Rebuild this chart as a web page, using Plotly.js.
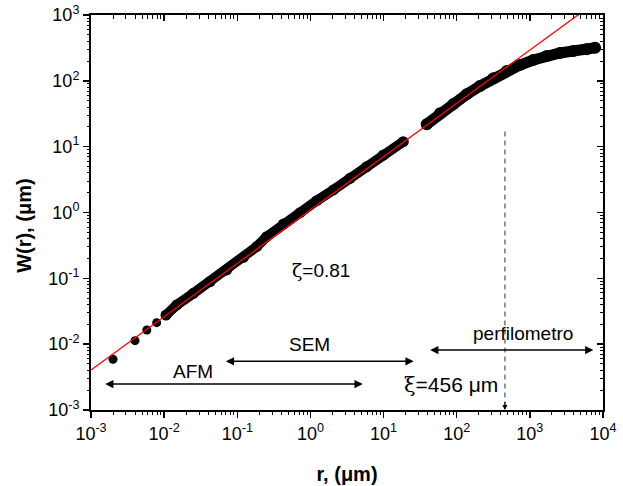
<!DOCTYPE html>
<html><head><meta charset="utf-8">
<script src="https://cdn.plot.ly/plotly-3.0.1.min.js"></script>
<style>html,body{margin:0;padding:0;background:#fff}</style>
</head><body><div id="chart" style="width:623px;height:486px"></div>
<script>
// AFM isolated points (r in um, W in um)
var afmDotsR = [0.002, 0.004, 0.0058, 0.0079];
var afmDotsW = [0.0059, 0.0113, 0.0164, 0.0212];
// AFM + SEM dense band
var semR = [0.0106, 0.0149, 0.0251, 0.0424, 0.0716, 0.121, 0.184, 0.252, 0.426, 0.721, 1.22, 2.06, 3.47, 5.87, 9.92, 18.6];
var semW = [0.0277, 0.0394, 0.0592, 0.0889, 0.134, 0.208, 0.302, 0.429, 0.668, 0.993, 1.51, 2.20, 3.31, 4.96, 7.47, 11.9];
// perfilometro band
var perfR = [38.9, 59.2, 89.9, 137, 208, 316, 483, 733, 1114, 1698, 2582, 3926, 5984, 7800];
var perfW = [21.9, 32.1, 44.5, 62.4, 83.4, 109, 141, 174, 207, 238, 265, 284, 301, 318];
// power-law fit, zeta = 0.81
var fitR = [0.001, 10000];
var fitW = [0.00405, 1894];
// correlation length
var xi = 456;
var xiLineW = [17, 0.001];
// measuring ranges (start r, end r, W level)
var rangeNames = ['AFM', 'SEM', 'perfilometro'];
var rangeStart = [0.00149, 0.0665, 41.4];
var rangeEnd = [5.19, 25.8, 7380];
var rangeLevel = [0.00248, 0.00548, 0.00815];
var labelR = [0.0246, 0.966, 798];
var labelW = [0.00382, 0.0100, 0.0146];
// axis decades and tick labels
var xDecades = [-3, -2, -1, 0, 1, 2, 3, 4];
var yDecades = [-3, -2, -1, 0, 1, 2, 3];
var minorDigits = [2, 3, 4, 5, 6, 7, 8, 9];

var FONT = 'Liberation Sans, Arial, sans-serif';
var L10 = Math.log10;

function majorVals(dec) { return dec.map(function(p){ return Math.pow(10, p); }); }
function majorText(dec) { return dec.map(function(p){ return '10<sup>' + p + '</sup>'; }); }
function minorVals(dec) {
  var v = [];
  for (var i = 0; i < dec.length - 1; i++) minorDigits.forEach(function(d){ v.push(d * Math.pow(10, dec[i])); });
  return v;
}

var traces = [
  {x: afmDotsR, y: afmDotsW, mode: 'markers', type: 'scatter',
   marker: {color: 'black', size: 9}, showlegend: false},
  {x: semR, y: semW, mode: 'lines+markers', type: 'scatter',
   line: {color: 'black', width: 10}, marker: {color: 'black', size: 11}, showlegend: false},
  {x: perfR, y: perfW, mode: 'lines+markers', type: 'scatter',
   line: {color: 'black', width: 11}, marker: {color: 'black', size: 12}, showlegend: false},
  {x: fitR, y: fitW, mode: 'lines', type: 'scatter',
   line: {color: '#ff0000', width: 1.3}, showlegend: false},
  {x: [xi, xi], y: xiLineW, mode: 'lines', type: 'scatter',
   line: {color: '#777777', width: 1.5, dash: '5px,4px'}, showlegend: false},
  {x: [], y: [], xaxis: 'x2', yaxis: 'y2', type: 'scatter', showlegend: false},
  {x: [], y: [], xaxis: 'x3', yaxis: 'y3', type: 'scatter', showlegend: false},
  {x: [], y: [], xaxis: 'x4', yaxis: 'y4', type: 'scatter', showlegend: false}
];

var annotations = [];
for (var i = 0; i < rangeNames.length; i++) {
  annotations.push({x: L10(rangeEnd[i]), y: L10(rangeLevel[i]), ax: L10(rangeStart[i]), ay: L10(rangeLevel[i]),
    xref: 'x', yref: 'y', axref: 'x', ayref: 'y', text: '', showarrow: true,
    arrowside: 'end+start', arrowhead: 2, arrowsize: 1.1, arrowwidth: 1.5, arrowcolor: 'black'});
  annotations.push({x: L10(labelR[i]), y: L10(labelW[i]), xref: 'x', yref: 'y', text: rangeNames[i],
    showarrow: false, font: {family: FONT, size: 19, color: 'black'}});
}
annotations.push({x: L10(1.40), y: L10(0.134), xref: 'x', yref: 'y',
  text: '<span style="font-family:DejaVu Serif">ζ</span>=0.81',
  showarrow: false, font: {family: FONT, size: 19, color: 'black'}});
annotations.push({x: L10(83.6), y: L10(0.0024), xref: 'x', yref: 'y',
  text: '<span style="font-family:DejaVu Serif">ξ</span>=456 μm',
  showarrow: false, font: {family: FONT, size: 21, color: 'black'}});
annotations.push({x: L10(xi), y: -3, ax: L10(xi), ay: L10(0.0014), xref: 'x', yref: 'y', axref: 'x', ayref: 'y',
  text: '', showarrow: true, arrowhead: 2, arrowsize: 1, arrowwidth: 1, arrowcolor: 'black'});
// y-axis title
annotations.push({xref: 'paper', yref: 'paper', x: -0.131, y: 0.466, xanchor: 'center', yanchor: 'middle',
  textangle: -90, text: '<b>W(r), (μm)</b>', showarrow: false, font: {family: FONT, size: 20, color: 'black'}});

var tickFont = {family: FONT, size: 18, color: 'black'};
function ax(decades, opts) {
  var base = {type: 'log', range: [decades[0], decades[decades.length - 1]], showgrid: false, zeroline: false,
    showline: true, linewidth: 2, linecolor: 'black', tickcolor: 'black', tickwidth: 1.5, ticklen: 6,
    tickmode: 'array', tickvals: majorVals(decades), ticktext: majorText(decades), tickfont: tickFont};
  return Object.assign(base, opts);
}
function minorAx(decades, opts) {
  return ax(decades, Object.assign({tickvals: minorVals(decades), ticktext: null, showticklabels: false,
    ticklen: 3.5, tickwidth: 1, showline: false}, opts));
}

var layout = {
  width: 623, height: 486,
  margin: {l: 91, r: 20, t: 15, b: 76},
  paper_bgcolor: 'white', plot_bgcolor: 'white',
  showlegend: false,
  xaxis: ax(xDecades, {ticks: 'outside',
    title: {text: '<b>r, (μm)</b>', font: {family: FONT, size: 20, color: 'black'}, standoff: 24}}),
  yaxis: ax(yDecades, {ticks: 'outside'}),
  xaxis2: ax(xDecades, {overlaying: 'x', side: 'top', anchor: 'y2', ticks: 'inside', showticklabels: false}),
  yaxis2: ax(yDecades, {overlaying: 'y', side: 'right', anchor: 'x2', ticks: 'inside', showticklabels: false}),
  xaxis3: minorAx(xDecades, {overlaying: 'x', side: 'bottom', anchor: 'y3', ticks: 'outside'}),
  yaxis3: minorAx(yDecades, {overlaying: 'y', side: 'left', anchor: 'x3', ticks: 'outside'}),
  xaxis4: minorAx(xDecades, {overlaying: 'x', side: 'top', anchor: 'y4', ticks: 'inside'}),
  yaxis4: minorAx(yDecades, {overlaying: 'y', side: 'right', anchor: 'x4', ticks: 'inside'}),
  annotations: annotations
};

Plotly.newPlot('chart', traces, layout, {displayModeBar: false, staticPlot: true});
</script></body></html>
